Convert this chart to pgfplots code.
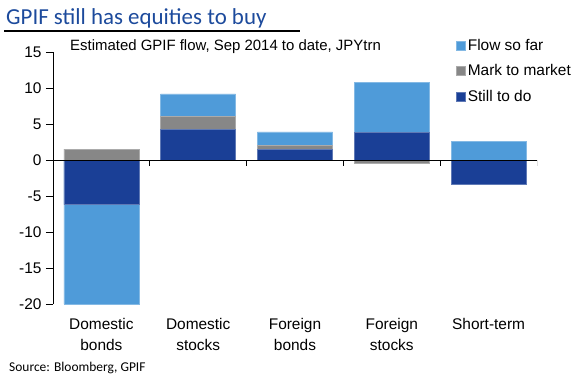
\documentclass[border=0pt]{standalone}
\usepackage{pgfplots}
\pgfplotsset{compat=1.18}
\usepackage{fontspec}
\setmainfont{Liberation Sans}
\newfontfamily\calibri{Carlito}
\definecolor{flow}{RGB}{79,155,217}
\definecolor{mtm}{RGB}{135,135,135}
\definecolor{still}{RGB}{26,63,150}
\definecolor{ttl}{RGB}{28,74,156}
\begin{document}
\begin{tikzpicture}
\path[use as bounding box] (0,0) rectangle (572bp,-383bp);
\node[anchor=base west, inner sep=0pt, font=\calibri\fontsize{23}{27}\selectfont, text=ttl] at (6bp,-24bp) {GPIF still has equities to buy};
\draw[line width=1.3bp] (4bp,-31bp) -- (300bp,-31bp);
\node[anchor=base west, inner sep=0pt, font=\calibri\fontsize{13.5}{16}\selectfont] at (9bp,-371bp) {Source: Bloomberg, GPIF};
\node[anchor=west, inner sep=0pt, font=\fontsize{15}{18}\selectfont] at (70bp,-47bp) {Estimated GPIF flow, Sep 2014 to date, JPYtrn};
\begin{axis}[
  at={(53bp,-304bp)}, anchor=south west,
  scale only axis, width=484bp, height=252bp,
  xmin=-0.5, xmax=4.5, ymin=-20, ymax=15,
  axis y line*=left, axis x line*=bottom,
  x axis line style={draw=none},
  y axis line style={-, line width=0.7bp},
  xtick={0,1,2,3,4},
  xticklabels={{Domestic\\bonds},{Domestic\\stocks},{Foreign\\bonds},{Foreign\\stocks},{Short-term}},
  xtick style={draw=none},
  xticklabel style={align=center, font=\fontsize{15.5}{21}\selectfont, anchor=north, yshift=-4bp},
  ytick={-20,-15,...,15},
  ytick style={draw=black, line width=0.7bp},
  tick align=outside, major tick length=7bp,
  yticklabel style={font=\fontsize{15.5}{18}\selectfont, xshift=-1bp},
  /pgf/number format/assume math mode=true,
  ybar,
  legend style={at={(rel axis cs:0.833,1.06)}, anchor=north west, draw=none, fill=none,
    font=\fontsize{15.5}{18}\selectfont, row sep=9bp, inner sep=0pt},
  legend cell align=left,
  legend image code/.code={\fill[#1] (0bp,-4.5bp) rectangle (9bp,4.5bp);},
]
% Flow so far: outer extent of each stack (cumulative)
\addplot[fill=flow, draw=flow!70!white, line width=0.5bp, bar width=0.775, bar shift=0pt]
  coordinates {(0,-20) (1,9.2) (2,3.9) (3,10.8) (4,2.6)};
\addlegendentry{Flow so far}
% Mark to market: cumulative top (still + mtm)
\addplot[fill=mtm, draw=mtm!70!white, line width=0.5bp, bar width=0.775, bar shift=0pt]
  coordinates {(0,1.5) (1,6.1) (2,2.0) (3,-0.4)};
\addlegendentry{Mark to market}
% Still to do
\addplot[fill=still, draw=still!70!white, line width=0.5bp, bar width=0.775, bar shift=0pt]
  coordinates {(0,-6.2) (1,4.3) (2,1.5) (3,3.8) (4,-3.4)};
\addlegendentry{Still to do}
\draw[line width=0.8bp] (axis cs:-0.5,0) -- (axis cs:4.5,0);
\pgfplotsinvokeforeach{0.5,1.5,2.5,3.5,4.5}{\draw[line width=0.7bp] (axis cs:#1,0) -- ([yshift=-6bp]axis cs:#1,0);}
\end{axis}
\end{tikzpicture}
\end{document}
